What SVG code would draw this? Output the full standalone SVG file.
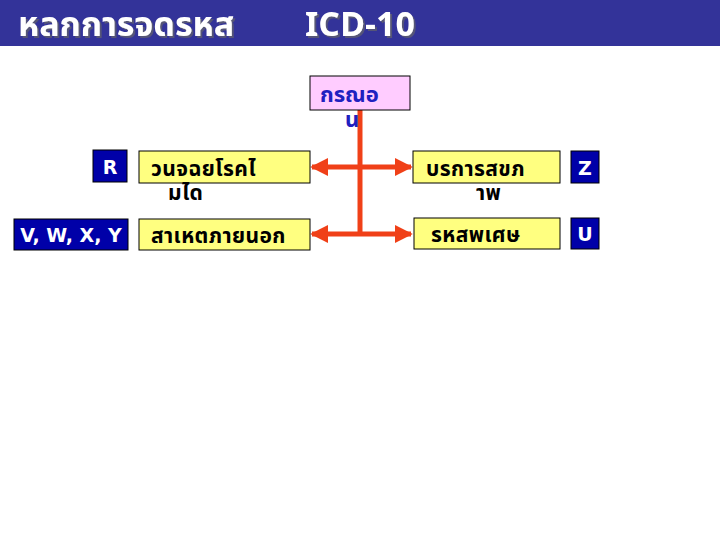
<svg xmlns="http://www.w3.org/2000/svg" width="720" height="540" viewBox="0 0 720 540">
<style>
.th{font-family:"Noto Sans Thai","Tahoma","DejaVu Sans",sans-serif;font-weight:bold}
.hd{font-size:34px;fill:#fff;filter:url(#shadow)}
.yb{fill:#FFFF80;stroke:#000;stroke-width:1}
.bb{fill:#0000A8;stroke:#000;stroke-width:1}
.bt{font-family:Tahoma,"DejaVu Sans",sans-serif;font-weight:bold;font-size:19px;fill:#fff}
.yt{font-size:21px;fill:#000;letter-spacing:0.4px}
.ln{stroke:#F04018;stroke-width:5;fill:none}
</style>
<defs>
<filter id="shadow" x="-10%" y="-20%" width="120%" height="150%">
<feDropShadow dx="2" dy="2" stdDeviation="0.6" flood-color="#555577" flood-opacity="1"/>
</filter>
<marker id="ah" viewBox="0 0 10 10" refX="9" refY="5" markerWidth="3.6" markerHeight="3.6" orient="auto-start-reverse" markerUnits="strokeWidth">
<path d="M0,0 L10,5 L0,10 Z" fill="#F04018"/>
</marker>
</defs>
<rect width="720" height="540" fill="#fff"/>
<g id="header">
<rect x="0" y="0" width="720" height="46" fill="#333399"/>
<text class="th hd" x="18" y="36">หลกการจดรหส</text>
<text class="th hd" x="305" y="36">ICD-10</text>
</g>
<g id="connectors">
<line class="ln" x1="360" y1="108" x2="360" y2="234"/>
<line class="ln" x1="312" y1="167" x2="411" y2="167" marker-start="url(#ah)" marker-end="url(#ah)"/>
<line class="ln" x1="312" y1="234" x2="411" y2="234" marker-start="url(#ah)" marker-end="url(#ah)"/>
</g>
<g id="root">
<rect x="310" y="76" width="100" height="34" fill="#FFCCFF" stroke="#000" stroke-width="1"/>
<text class="th" font-size="22" fill="#2020C0"><tspan x="320" y="102">กรณอ</tspan><tspan x="345" y="127">น</tspan></text>
</g>
<g id="r">
<rect class="bb" x="93" y="150" width="34" height="32"/>
<text class="bt" x="110" y="174" text-anchor="middle">R</text>
</g>
<g id="vwxy">
<rect class="bb" x="14" y="219" width="114" height="31"/>
<text class="bt" x="71" y="242" text-anchor="middle" font-size="18">V, W, X, Y</text>
</g>
<g id="diag">
<rect class="yb" x="139" y="151" width="171" height="32"/>
<text class="th yt"><tspan x="151" y="176">วนจฉยโรคไ</tspan><tspan x="168" y="200">มได</tspan></text>
</g>
<g id="ext">
<rect class="yb" x="139" y="219" width="171" height="31"/>
<text class="th yt" x="151" y="243">สาเหตภายนอก</text>
</g>
<g id="svc">
<rect class="yb" x="413" y="151" width="147" height="32"/>
<text class="th yt"><tspan x="426" y="176">บรการสขภ</tspan><tspan x="476" y="200">าพ</tspan></text>
</g>
<g id="spc">
<rect class="yb" x="414" y="218" width="146" height="31"/>
<text class="th yt" x="431" y="242">รหสพเศษ</text>
</g>
<g id="z">
<rect class="bb" x="571" y="151" width="28" height="32"/>
<text class="bt" x="585" y="175" text-anchor="middle">Z</text>
</g>
<g id="u">
<rect class="bb" x="571" y="218" width="28" height="31"/>
<text class="bt" x="585" y="241" text-anchor="middle">U</text>
</g>
</svg>
